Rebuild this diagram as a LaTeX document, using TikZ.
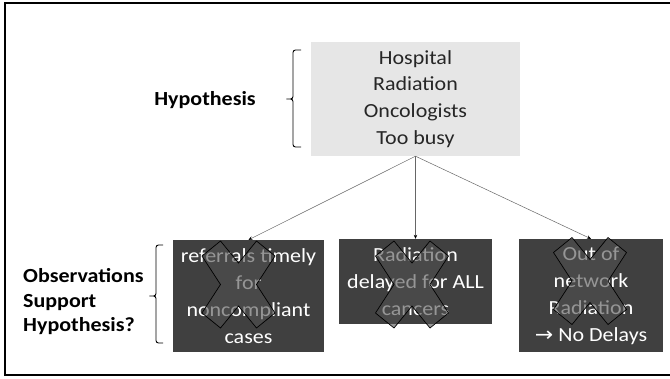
\documentclass[tikz,border=0pt]{standalone}
\usepackage{fontspec}
\setmainfont{Carlito}[FakeStretch=1.1]
\newfontfamily\symfont{DejaVu Sans}[FakeStretch=1.1]
\usetikzlibrary{arrows.meta}
\definecolor{hypfill}{RGB}{230,230,230}
\definecolor{obsfill}{RGB}{64,64,64}
\definecolor{xfill}{RGB}{80,80,80}
\begin{document}
\begin{tikzpicture}[x=1pt,y=-1pt,
  hypbox/.style={fill=hypfill, inner sep=0pt, minimum width=209pt, minimum height=114pt, align=center, font=\fontsize{20}{26.7}\selectfont, text=black!85},
  obsbox/.style={fill=obsfill, inner sep=0pt, align=center, text=white, font=\fontsize{20}{27}\selectfont},
  sidelabel/.style={font=\bfseries\fontsize{20}{24.5}\selectfont, align=left, inner sep=0pt},
  link/.style={draw=black!60, line width=0.5pt, -{Stealth[length=4pt,width=3.5pt,black]}},
  brace/.style={draw=black, line width=0.9pt, rounded corners=2.5pt},
  xstyle/.style={draw=black, line width=0.7pt, fill=xfill, fill opacity=0.6},
  frame/.style={draw=black, line width=2.2pt},
  xmark/.pic={\path[xstyle] (-18,-43.5) -- (0,-21.5) -- (18,-43.5) -- (36.5,-28.5) -- (18,0) -- (36.5,28.5) -- (18,43.5) -- (0,21.5) -- (-18,43.5) -- (-36.5,28.5) -- (-18,0) -- (-36.5,-28.5) -- cycle;}]
\useasboundingbox (0,0) rectangle (670,378);
\draw[frame] (674,3) -- (5,3) -- (5,375) -- (674,375);

% hypothesis
\node[hypbox] (hyp) at (415.5,99) {Hospital\\Radiation\\Oncologists\\Too busy};
\node[sidelabel] (hlab) at (205,100) {Hypothesis};
\draw[brace] (301,50) -- (293,50) -- (293,99) -- (285,99) -- (293,99) -- (293,147) -- (301,147);

% observations
\node[obsbox, minimum width=151pt, minimum height=112pt] (o1) at (248.5,296) {referrals timely\\for\\noncompliant\\cases};
\node[obsbox, minimum width=153pt, minimum height=85pt] (o2) at (415.5,281.5) {Radiation\\delayed for ALL\\cancers};
\node[obsbox, minimum width=144pt, minimum height=113pt] (o3) at (591,295.5) {Out of\\network\\Radiation\\{\symfont\fontsize{20}{27}\selectfont →} No Delays};
\node[sidelabel, anchor=west] (olab) at (23,302) {Observations\\Support\\Hypothesis?};
\draw[brace] (163,245) -- (156,245) -- (156,296) -- (148,296) -- (156,296) -- (156,343) -- (163,343);

% connectors
\draw[link] (hyp.south) -- (o1.north);
\draw[link] (hyp.south) -- (o2.north);
\draw[link] (hyp.south) -- (o3.north);

% crosses
\pic at (238.5,284.5) {xmark};
\pic at (412,284.5) {xmark};
\pic at (590,281) {xmark};
\end{tikzpicture}
\end{document}
